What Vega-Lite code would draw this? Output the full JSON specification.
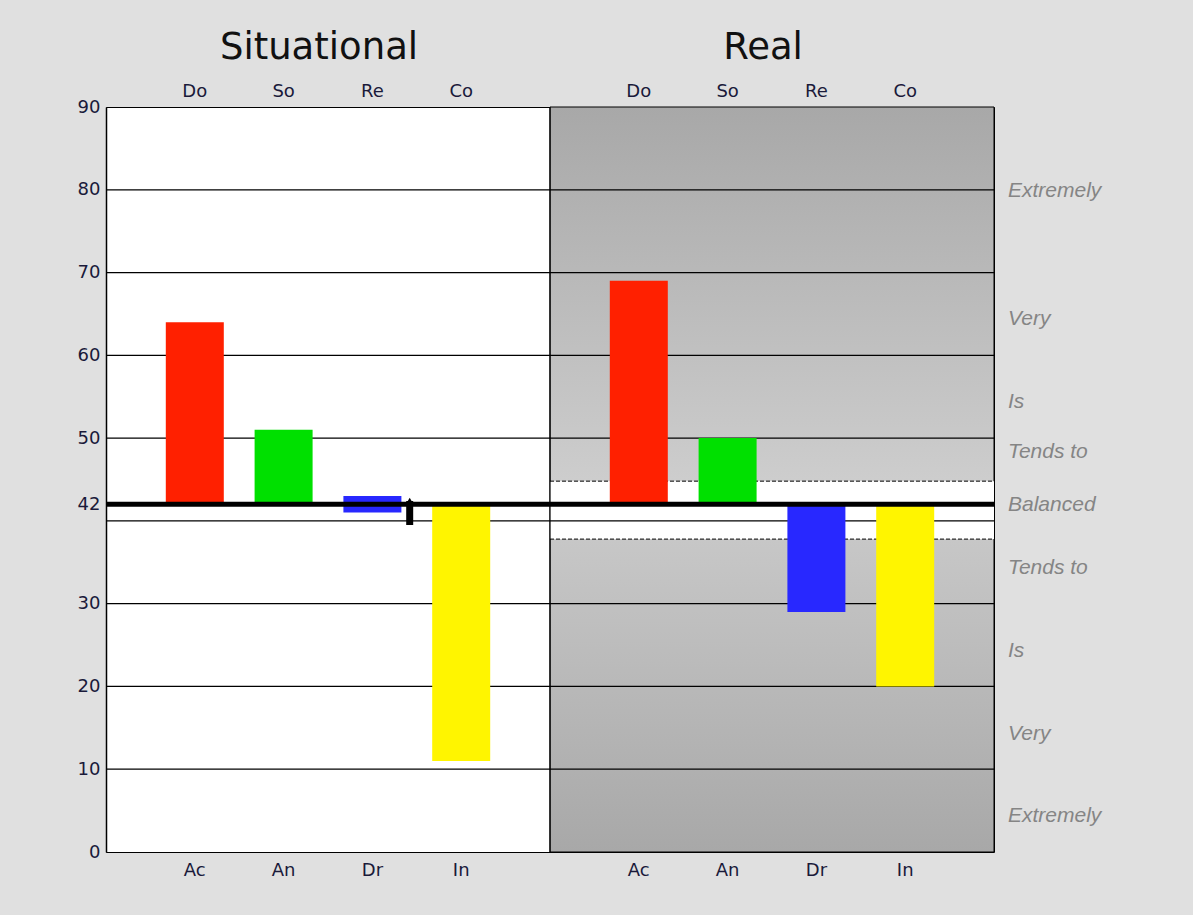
{
  "$schema": "https://vega.github.io/schema/vega-lite/v6.json",
  "autosize": "none",
  "width": 888,
  "height": 745,
  "padding": {"left": 106, "top": 107, "right": 199, "bottom": 63},
  "background": "#e0e0e0",
  "config": {
    "view": {"stroke": "black", "strokeWidth": 1, "fill": "white"},
    "axisY": {"ticks": false, "grid": false, "domain": true, "domainColor": "black", "domainWidth": 1.5,
      "labelFont": "DejaVu Sans", "labelFontSize": 18, "labelColor": "#1a1a3a", "labelPadding": 6}
  },
  "datasets": {
    "bars": [
      {"panel": "Situational", "cat": "Do", "x": 1, "y": 64, "base": 42},
      {"panel": "Situational", "cat": "So", "x": 2, "y": 51, "base": 42},
      {"panel": "Situational", "cat": "Re", "x": 3, "y": 43, "base": 41},
      {"panel": "Situational", "cat": "Co", "x": 4, "y": 11, "base": 42},
      {"panel": "Real", "cat": "Do", "x": 6, "y": 69, "base": 42},
      {"panel": "Real", "cat": "So", "x": 7, "y": 50, "base": 42},
      {"panel": "Real", "cat": "Re", "x": 8, "y": 29, "base": 42},
      {"panel": "Real", "cat": "Co", "x": 9, "y": 20, "base": 42}
    ],
    "grid": [{"y": 10}, {"y": 20}, {"y": 30}, {"y": 40}, {"y": 50}, {"y": 60}, {"y": 70}, {"y": 80}],
    "dashed": [{"y": 44.8}, {"y": 37.8}],
    "side": [
      {"t": "Extremely", "y": 79.8},
      {"t": "Very", "y": 64.4},
      {"t": "Is", "y": 54.4},
      {"t": "Tends to", "y": 48.3},
      {"t": "Balanced", "y": 41.9},
      {"t": "Tends to", "y": 34.3},
      {"t": "Is", "y": 24.3},
      {"t": "Very", "y": 14.3},
      {"t": "Extremely", "y": 4.4}
    ],
    "toplab": [
      {"x": 1, "t": "Do"}, {"x": 2, "t": "So"}, {"x": 3, "t": "Re"}, {"x": 4, "t": "Co"},
      {"x": 6, "t": "Do"}, {"x": 7, "t": "So"}, {"x": 8, "t": "Re"}, {"x": 9, "t": "Co"}
    ],
    "botlab": [
      {"x": 1, "t": "Ac"}, {"x": 2, "t": "An"}, {"x": 3, "t": "Dr"}, {"x": 4, "t": "In"},
      {"x": 6, "t": "Ac"}, {"x": 7, "t": "An"}, {"x": 8, "t": "Dr"}, {"x": 9, "t": "In"}
    ],
    "titles": [{"x": 2.5, "t": "Situational"}, {"x": 7.5, "t": "Real"}],
    "arrow": [{"x": 3.42, "y": 39.5, "y2": 42.4}]
  },
  "layer": [
    {
      "data": {"values": [{"a": 5, "b": 10, "lo": 0, "hi": 90}]},
      "mark": {"type": "rect", "stroke": "black", "strokeWidth": 1,
        "fill": {"gradient": "linear", "x1": 0, "y1": 0, "x2": 0, "y2": 1,
          "stops": [{"offset": 0, "color": "#a8a8a8"}, {"offset": 0.5, "color": "#cdcdcd"}, {"offset": 1, "color": "#a8a8a8"}]}},
      "encoding": {
        "x": {"field": "a", "type": "quantitative", "scale": {"domain": [0, 10], "nice": false, "zero": false, "padding": 0}, "axis": null},
        "x2": {"field": "b"},
        "y": {"field": "lo", "type": "quantitative", "scale": {"domain": [0, 90], "nice": false, "zero": false, "padding": 0},
          "title": null,
          "axis": {"values": [0, 10, 20, 30, 42, 50, 60, 70, 80, 90], "title": null}},
        "y2": {"field": "hi"}
      }
    },
    {
      "data": {"values": [{"a": 5, "b": 10, "lo": 37.8, "hi": 44.8}]},
      "mark": {"type": "rect", "fill": "white"},
      "encoding": {
        "x": {"field": "a", "type": "quantitative", "axis": null},
        "x2": {"field": "b"},
        "y": {"field": "lo", "type": "quantitative", "title": null, "axis": {"values": [0, 10, 20, 30, 42, 50, 60, 70, 80, 90], "title": null}},
        "y2": {"field": "hi"}
      }
    },
    {
      "data": {"name": "grid"},
      "mark": {"type": "rule", "color": "black", "strokeWidth": 1.2},
      "encoding": {"y": {"field": "y", "type": "quantitative", "title": null, "axis": {"values": [0, 10, 20, 30, 42, 50, 60, 70, 80, 90], "title": null}}}
    },
    {
      "data": {"name": "dashed"},
      "mark": {"type": "rule", "color": "black", "strokeWidth": 1, "strokeDash": [4, 2]},
      "encoding": {
        "y": {"field": "y", "type": "quantitative", "title": null, "axis": {"values": [0, 10, 20, 30, 42, 50, 60, 70, 80, 90], "title": null}},
        "x": {"datum": 5, "type": "quantitative", "axis": null},
        "x2": {"datum": 10}
      }
    },
    {
      "data": {"name": "bars"},
      "mark": {"type": "bar", "size": 58},
      "encoding": {
        "x": {"field": "x", "type": "quantitative", "axis": null},
        "y": {"field": "y", "type": "quantitative", "title": null, "axis": {"values": [0, 10, 20, 30, 42, 50, 60, 70, 80, 90], "title": null}},
        "y2": {"field": "base"},
        "color": {"field": "cat", "type": "nominal", "legend": null,
          "scale": {"domain": ["Do", "So", "Re", "Co"], "range": ["#ff2000", "#00e000", "#2828ff", "#fff500"]}}
      }
    },
    {
      "data": {"values": [{"x": 5}]},
      "mark": {"type": "rule", "color": "black", "strokeWidth": 1.2},
      "encoding": {"x": {"field": "x", "type": "quantitative", "axis": null}}
    },
    {
      "data": {"values": [{"y": 42}]},
      "mark": {"type": "rule", "color": "black", "strokeWidth": 5},
      "encoding": {"y": {"field": "y", "type": "quantitative", "title": null, "axis": {"values": [0, 10, 20, 30, 42, 50, 60, 70, 80, 90], "title": null}}}
    },
    {
      "data": {"name": "arrow"},
      "mark": {"type": "rule", "color": "black", "strokeWidth": 7},
      "encoding": {
        "x": {"field": "x", "type": "quantitative", "axis": null},
        "y": {"field": "y", "type": "quantitative", "title": null, "axis": {"values": [0, 10, 20, 30, 42, 50, 60, 70, 80, 90], "title": null}},
        "y2": {"field": "y2"}
      }
    },
    {
      "data": {"name": "arrow"},
      "mark": {"type": "point", "shape": "triangle-up", "filled": true, "color": "black", "size": 60, "opacity": 1},
      "encoding": {
        "x": {"field": "x", "type": "quantitative", "axis": null},
        "y": {"field": "y2", "type": "quantitative", "title": null, "axis": {"values": [0, 10, 20, 30, 42, 50, 60, 70, 80, 90], "title": null}}
      }
    },
    {
      "data": {"name": "side"},
      "mark": {"type": "text", "align": "left", "baseline": "middle", "dx": 14, "font": "Liberation Sans", "fontStyle": "italic", "fontSize": 21, "color": "#858585"},
      "encoding": {
        "x": {"datum": 10, "type": "quantitative", "axis": null},
        "y": {"field": "y", "type": "quantitative", "title": null, "axis": {"values": [0, 10, 20, 30, 42, 50, 60, 70, 80, 90], "title": null}},
        "text": {"field": "t"}
      }
    },
    {
      "data": {"name": "toplab"},
      "mark": {"type": "text", "align": "center", "baseline": "middle", "dy": -15, "font": "DejaVu Sans", "fontSize": 18, "color": "#1a1a3a"},
      "encoding": {
        "x": {"field": "x", "type": "quantitative", "axis": null},
        "y": {"datum": 90, "type": "quantitative", "title": null, "axis": {"values": [0, 10, 20, 30, 42, 50, 60, 70, 80, 90], "title": null}},
        "text": {"field": "t"}
      }
    },
    {
      "data": {"name": "botlab"},
      "mark": {"type": "text", "align": "center", "baseline": "middle", "dy": 19, "font": "DejaVu Sans", "fontSize": 18, "color": "#1a1a3a"},
      "encoding": {
        "x": {"field": "x", "type": "quantitative", "axis": null},
        "y": {"datum": 0, "type": "quantitative", "title": null, "axis": {"values": [0, 10, 20, 30, 42, 50, 60, 70, 80, 90], "title": null}},
        "text": {"field": "t"}
      }
    },
    {
      "data": {"name": "titles"},
      "mark": {"type": "text", "align": "center", "baseline": "middle", "dy": -59, "dx": -9, "font": "DejaVu Sans", "fontSize": 37, "color": "#111111"},
      "encoding": {
        "x": {"field": "x", "type": "quantitative", "axis": null},
        "y": {"datum": 90, "type": "quantitative", "title": null, "axis": {"values": [0, 10, 20, 30, 42, 50, 60, 70, 80, 90], "title": null}},
        "text": {"field": "t"}
      }
    }
  ]
}
